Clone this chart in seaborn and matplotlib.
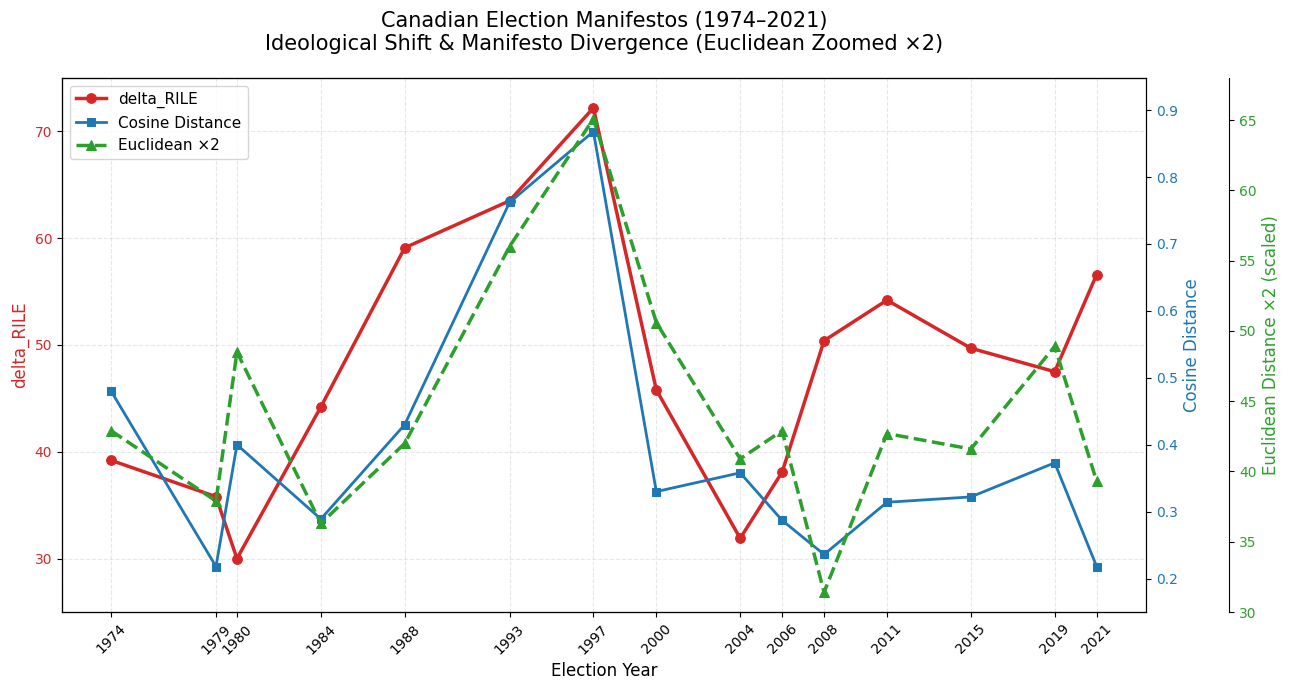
import numpy as np
import pandas as pd
import matplotlib
matplotlib.use("Agg")
import matplotlib.pyplot as plt
import seaborn as sns

# values
years = [1974, 1979, 1980, 1984, 1988, 1993, 1997, 2000, 2004, 2006, 2008, 2011, 2015, 2019, 2021]
delta_rile = [39.2, 35.8, 30.0, 44.2, 59.1, 63.5, 72.2, 45.8, 31.9, 38.1, 50.4, 54.2, 49.7, 47.5, 56.6]
cosine_dist = [0.480, 0.218, 0.400, 0.289, 0.430, 0.762, 0.868, 0.330, 0.358, 0.287, 0.236, 0.314, 0.322, 0.373, 0.218]
euclid_x2 = [42.9, 37.9, 48.5, 36.3, 42.0, 56.0, 65.1, 50.6, 40.9, 42.9, 31.4, 42.7, 41.6, 48.9, 39.3]

df = pd.DataFrame({"year": years, "delta_RILE": delta_rile,
                   "cosine": cosine_dist, "euclid2": euclid_x2})

red, blue, green = "#d62728", "#1f77b4", "#2ca02c"

fig, ax1 = plt.subplots(figsize=(12.89, 6.9), dpi=100)
fig.subplots_adjust(left=0.048, right=0.889, top=0.887, bottom=0.113)

sns.lineplot(data=df, x="year", y="delta_RILE", ax=ax1, color=red, marker="o",
             markersize=7, markeredgecolor=red, linewidth=2.5, label="delta_RILE")
ax1.set_xlabel("Election Year", fontsize=12)
ax1.set_ylabel("delta_RILE", color=red, fontsize=12)
ax1.tick_params(axis="y", labelcolor=red)
ax1.set_ylim(25, 75)
ax1.set_xticks(years)
ax1.set_xticklabels(years, rotation=45)
ax1.grid(True, linestyle="--", alpha=0.3)

ax2 = ax1.twinx()
sns.lineplot(data=df, x="year", y="cosine", ax=ax2, color=blue, marker="s",
             markersize=6, markeredgecolor=blue, linewidth=2, label="Cosine Distance")
ax2.set_ylabel("Cosine Distance", color=blue, fontsize=12)
ax2.tick_params(axis="y", labelcolor=blue)
ax2.set_ylim(0.15, 0.948)

ax3 = ax1.twinx()
ax3.spines["right"].set_position(("outward", 60))
sns.lineplot(data=df, x="year", y="euclid2", ax=ax3, color=green, marker="^",
             markersize=7, markeredgecolor=green, linewidth=2.5, linestyle="--",
             label="Euclidean ×2")
ax3.set_ylabel("Euclidean Distance ×2 (scaled)", color=green, fontsize=12)
ax3.tick_params(axis="y", labelcolor=green)
ax3.set_ylim(30, 68)

# one legend for all three axes
handles, labels = [], []
for a in (ax1, ax2, ax3):
    h, l = a.get_legend_handles_labels()
    handles += h
    labels += l
    if a.get_legend() is not None:
        a.get_legend().remove()
ax1.legend(handles, labels, loc="upper left", fontsize=11)

ax1.set_title("Canadian Election Manifestos (1974–2021)\n"
              "Ideological Shift & Manifesto Divergence (Euclidean Zoomed ×2)",
              fontsize=15, pad=20)

fig.savefig("out.png", dpi=100)
